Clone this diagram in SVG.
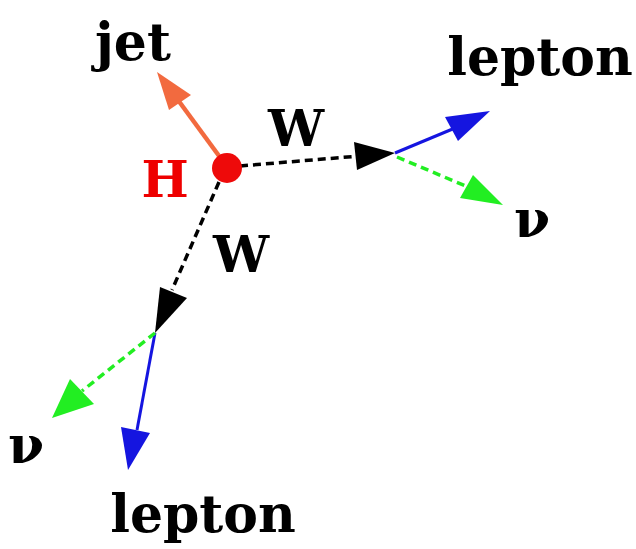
<svg xmlns="http://www.w3.org/2000/svg" width="636" height="549" viewBox="0 0 636 549">
<style>
text{font-family:"DejaVu Serif",serif;font-weight:bold;fill:#000}
.blk{stroke:#000;stroke-width:3.5;stroke-dasharray:8 5;fill:none}
.grn{stroke:#22ee22;stroke-width:3.5;stroke-dasharray:8 5;fill:none}
.blu{stroke:#1515e0;stroke-width:3;fill:none}
.org{stroke:#f26a3f;stroke-width:4.5;fill:none}
</style>
<rect width="636" height="549" fill="#fff"/>
<g id="connectors">
<line class="org" x1="222" y1="160" x2="178" y2="100"/>
<polygon fill="#f26a3f" points="157,72 169,110 191,95"/>
<line class="blk" x1="240" y1="166" x2="360" y2="156"/>
<polygon fill="#000" points="395,153 354,142 357,170"/>
<line class="blk" x1="219" y1="182" x2="172" y2="290"/>
<polygon fill="#000" points="155,333 160,287 187,298"/>
<line class="blu" x1="395" y1="153" x2="455" y2="128"/>
<polygon fill="#1515e0" points="490,111 445,117 458,141"/>
<line class="grn" x1="397" y1="157" x2="468" y2="187"/>
<polygon fill="#22ee22" points="503,205 473,175 460,198"/>
<line class="blu" x1="155" y1="333" x2="137" y2="430"/>
<polygon fill="#1515e0" points="128,470 121,427 150,433"/>
<line class="grn" x1="155" y1="333" x2="82" y2="391"/>
<polygon fill="#22ee22" points="52,418 70,379 94,404"/>
</g>
<g id="H"><circle cx="227" cy="168" r="15" fill="#ee0a0a"/><text x="165" y="197" font-size="50" style="fill:#e00" text-anchor="middle">H</text></g>
<g id="jet"><text x="133" y="60" font-size="52" text-anchor="middle">jet</text></g>
<g id="W1"><text x="296" y="146" font-size="50" text-anchor="middle">W</text></g>
<g id="W2"><text x="241" y="272" font-size="50" text-anchor="middle">W</text></g>
<g id="lepton1"><text x="540" y="75" font-size="52" text-anchor="middle">lepton</text></g>
<g id="lepton2"><text x="203" y="532" font-size="52" text-anchor="middle">lepton</text></g>
<g id="nu1"><text x="532" y="237" font-size="52" text-anchor="middle">ν</text></g>
<g id="nu2"><text x="26" y="463" font-size="52" text-anchor="middle">ν</text></g>
</svg>
